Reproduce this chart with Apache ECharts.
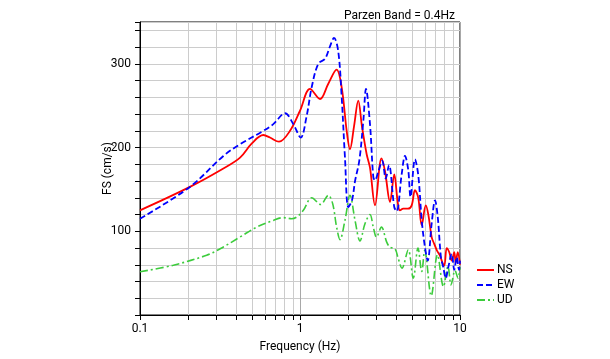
<!DOCTYPE html>
<html>
<head>
<meta charset="utf-8">
<script src="https://cdn.jsdelivr.net/npm/echarts@6/dist/echarts.min.js"></script>
<style>
html,body{margin:0;padding:0;background:#fff;}
#chart{width:610px;height:359px;}
</style>
</head>
<body>
<div id="chart"></div>
<script>
// ---- Data ----
const titleText = 'Parzen Band = 0.4Hz';
const seriesNames = ['NS', 'EW', 'UD'];

const nsFreq = [0.1, 0.205, 0.332, 0.422, 0.50, 0.59, 0.649, 0.739, 0.866, 1.0, 1.155, 1.334, 1.5, 1.694, 1.822, 1.958, 2.054, 2.175, 2.313, 2.44, 2.61, 2.738, 2.943, 3.229, 3.396, 3.652, 3.882, 4.08, 4.217, 4.42, 4.73, 4.99, 5.23, 5.485, 5.765, 6.11, 6.34, 6.65, 6.90, 7.18, 7.50, 7.75, 7.98, 8.26, 8.57, 8.87, 9.21, 9.40, 9.68, 10];
const nsVal  = [125, 153, 175, 188, 205, 215, 212, 207, 220, 244, 270, 258, 276, 293, 272, 220, 198, 225, 256, 225, 192, 176, 131, 187, 172, 135, 168, 135, 125, 127, 127, 131, 149, 140, 107, 131, 120, 93, 85, 77, 71, 63, 59, 80, 75, 65, 75, 62, 75, 60];

const ewFreq = [0.1, 0.205, 0.332, 0.422, 0.59, 0.681, 0.806, 0.908, 1.01, 1.101, 1.183, 1.30, 1.432, 1.54, 1.631, 1.734, 1.822, 1.91, 2.004, 2.113, 2.208, 2.35, 2.488, 2.585, 2.738, 2.871, 2.943, 3.072, 3.266, 3.434, 3.597, 3.882, 4.018, 4.325, 4.53, 4.75, 4.905, 5.23, 5.485, 5.765, 6.04, 6.28, 6.65, 6.98, 7.26, 7.60, 7.86, 8.15, 8.45, 8.87, 9.21, 9.53, 9.86, 10];
const ewVal  = [115, 153, 190, 204, 220, 228, 241, 228, 212, 238, 272, 300, 306, 321, 331, 315, 260, 188, 129, 137, 160, 185, 232, 270, 228, 165, 161, 170, 184, 163, 179, 129, 124, 169, 190, 173, 141, 186, 167, 113, 81, 65, 109, 137, 117, 69, 57, 44, 57, 73, 54, 69, 54, 65];

const udFreq = [0.1, 0.1615, 0.261, 0.332, 0.422, 0.536, 0.681, 0.787, 0.887, 0.953, 1.049, 1.183, 1.346, 1.503, 1.60, 1.694, 1.778, 1.91, 2.054, 2.208, 2.371, 2.547, 2.738, 2.871, 3.006, 3.229, 3.483, 3.652, 3.926, 4.11, 4.34, 4.75, 5.105, 5.464, 5.765, 6.017, 6.61, 7.23, 7.88, 8.41, 8.79, 9.31, 9.72, 10];
const udVal  = [51.6, 59.5, 71.4, 81.3, 93.2, 105, 113, 116.3, 115, 117, 125, 140, 132, 143, 133, 105, 90, 113, 143, 113, 88.5, 109, 120, 105, 93, 105, 87, 81, 79, 67.5, 56, 78, 44, 80, 52, 77, 23, 72, 34, 58, 36, 53, 44, 57];

const xMin = 0.1, xMax = 10;
const yMin = 0, yMax = 350, yInterval = 20;
const yLabelValues = [100, 200, 300];
const minorFreqs = [0.2, 0.3, 0.4, 0.5, 0.6, 0.7, 0.8, 0.9, 2, 3, 4, 5, 6, 7, 8, 9];

// ---- Build ----
function pairs(f, v) { return f.map((x, i) => [x, v[i]]); }
const FONT = 'Roboto';

const chart = echarts.init(document.getElementById('chart'), null, {renderer: 'canvas'});
chart.setOption({
  animation: false,
  backgroundColor: '#fff',
  textStyle: {fontFamily: FONT, color: '#000'},
  title: {
    text: titleText, right: 150, top: 5,
    textStyle: {fontSize: 12, fontWeight: 'normal', color: '#000', fontFamily: FONT}
  },
  grid: {left: 140, right: 150, top: 22, bottom: 44, show: true, borderColor: '#000', borderWidth: 1, backgroundColor: 'transparent'},
  legend: {
    orient: 'vertical', left: 471, top: 259, itemWidth: 17, itemHeight: 10, itemGap: 3,
    itemStyle: {opacity: 0},
    textStyle: {fontSize: 12, color: '#000', fontFamily: FONT, padding: [0, 0, 0, -2]},
    data: seriesNames
  },
  xAxis: {
    type: 'log', logBase: 10, min: xMin, max: xMax,
    name: 'Frequency (Hz)', nameLocation: 'middle', nameGap: 26,
    nameTextStyle: {fontSize: 12, color: '#000', fontFamily: FONT},
    axisLine: {lineStyle: {color: '#000'}},
    axisTick: {show: true, length: 5, lineStyle: {color: '#000'}},
    axisLabel: {fontSize: 12, color: '#000', margin: 8, formatter: v => String(v)},
    splitLine: {show: true, lineStyle: {color: '#a8a8a8'}}
  },
  yAxis: {
    type: 'value', min: yMin, max: yMax, interval: yInterval,
    name: 'FS (cm/s)', nameLocation: 'middle', nameGap: 26, nameMoveOverlap: false,
    nameTextStyle: {fontSize: 12, color: '#000', fontFamily: FONT},
    axisLine: {show: true, lineStyle: {color: '#000'}},
    axisTick: {show: true, length: 5, lineStyle: {color: '#000'}},
    axisLabel: {fontSize: 12, color: '#000', margin: 9,
      formatter: v => (yLabelValues.indexOf(v) >= 0 ? String(v) : '')},
    splitLine: {show: true, lineStyle: {color: '#cccccc'}}
  },
  series: [
    {
      type: 'custom', name: 'minorGrid', silent: true, z: 1,
      data: minorFreqs.map(f => [f, yMin]),
      renderItem: (params, api) => {
        const f = api.value(0);
        const p0 = api.coord([f, yMin]);
        const p1 = api.coord([f, yMax]);
        const x = Math.round(p0[0]) + 0.5;
        return {type: 'group', children: [
          {type: 'line', shape: {x1: x, y1: p0[1], x2: x, y2: p1[1]}, style: {stroke: '#cccccc', lineWidth: 1}},
          {type: 'line', shape: {x1: x, y1: p0[1], x2: x, y2: p0[1] + 5}, style: {stroke: '#000', lineWidth: 1}}
        ]};
      }
    },
    {
      name: seriesNames[0], type: 'line', data: pairs(nsFreq, nsVal), smooth: 0.35,
      symbol: 'none', z: 3, color: '#ff0000',
      lineStyle: {color: '#ff0000', width: 1.8, type: 'solid'}
    },
    {
      name: seriesNames[1], type: 'line', data: pairs(ewFreq, ewVal), smooth: 0.35,
      symbol: 'none', z: 4, color: '#0000ff',
      lineStyle: {color: '#0000ff', width: 1.8, type: [6, 3]}
    },
    {
      name: seriesNames[2], type: 'line', data: pairs(udFreq, udVal), smooth: 0.35,
      symbol: 'none', z: 2, color: '#3ccc3c',
      lineStyle: {color: '#3ccc3c', width: 1.6, type: [8, 3, 2, 3]}
    }
  ]
});
</script>
</body>
</html>
